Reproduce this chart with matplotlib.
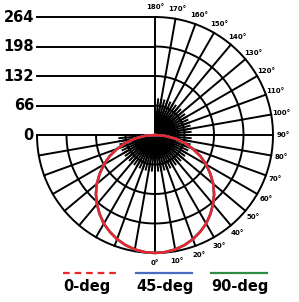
import numpy as np
import matplotlib.pyplot as plt
from matplotlib.patches import Wedge

# rings / tick labels (cd)
rings = [66, 132, 198, 264]
ring_labels = ['0', '66', '132', '198', '264']
ring_values = [0, 66, 132, 198, 264]

# angle labels, degrees from nadir
label_angles = list(range(0, 190, 10))

# intensity per C-plane, gamma 0..90 in 5 deg steps
gamma = [0, 5, 10, 15, 20, 25, 30, 35, 40, 45, 50, 55, 60, 65, 70, 75, 80, 85, 90]
i_0deg = [264, 263, 260, 255, 248, 239, 229, 216, 202, 187, 170, 151, 132, 112, 90, 68, 46, 23, 0]
i_45deg = [264, 263, 260, 255, 248, 239, 229, 216, 202, 187, 170, 151, 132, 112, 90, 68, 46, 23, 0]
i_90deg = [264, 263, 260, 255, 248, 239, 229, 216, 202, 187, 170, 151, 132, 112, 90, 68, 46, 23, 0]

legend_names = ['0-deg', '45-deg', '90-deg']
legend_colors = ['#e8262b', '#4a6cc0', '#2f8c45']

W, H = 299, 302
cx, cy = 155, 135
k = 264 / 118.0  # data units per pixel


def px(x, y):
    return (x - cx) * k, (cy - y) * k


def polar(r, a):
    t = np.radians(a)
    return r * np.sin(t), -r * np.cos(t)


fig = plt.figure(figsize=(W / 100, H / 100), dpi=100)
ax = fig.add_axes([0, 0, 1, 1])
ax.set_xlim(px(0, 0)[0], px(W, 0)[0])
ax.set_ylim(px(0, H)[1], px(0, 0)[1])
ax.axis('off')

lw = 1.4
# dense centre
ax.add_patch(Wedge((0, 0), 48, 180, 450, color='black', lw=0))
for a in np.arange(-90, 181, 5):
    x, y = polar(80, a)
    ax.plot([0, x], [0, y], color='black', lw=lw)

# radial lines
for a in range(-90, 181, 10):
    x, y = polar(264, a)
    ax.plot([0, x], [0, y], color='black', lw=lw)

# arcs
aa = np.linspace(-90, 180, 200)
for r in rings:
    x, y = polar(r, aa)
    ax.plot(x, y, color='black', lw=lw)

# horizontal value lines
for v in rings:
    ax.plot([-264, 0], [v, v], color='black', lw=lw)

for v, s in zip(ring_values, ring_labels):
    ax.text(px(34, 0)[0], v, s, ha='right', va='center', fontsize=10.5,
            fontweight='bold', color='black')

for a in label_angles:
    x, y = polar(286, a)
    ax.text(x, y, '%d°' % a, ha='center', va='center', fontsize=5,
            fontweight='bold', color='black')

# curves, mirrored about nadir
g = np.array(gamma)
for vals, c in zip([i_90deg, i_45deg, i_0deg], legend_colors[::-1]):
    v = np.array(vals)
    ang = np.concatenate([-g[::-1], g[1:]])
    rr = np.concatenate([v[::-1], v[1:]])
    x, y = polar(rr, ang)
    ax.plot(x, y, color=c, lw=1.8)

# legend
starts = [63, 136, 211]
for name, c, s in zip(legend_names, legend_colors, starts):
    x0, y0 = px(s, 273)
    x1, _ = px(s + 56, 273)
    ls = (0, (3, 2.2)) if name == '0-deg' else '-'
    ax.plot([x0, x1], [y0, y0], color=c, lw=1.6, ls=ls)
    tx, ty = px(s, 287)
    ax.text(tx, ty, name, ha='left', va='center', fontsize=10.5,
            fontweight='bold', color='black')

fig.savefig('out.png', dpi=100)
